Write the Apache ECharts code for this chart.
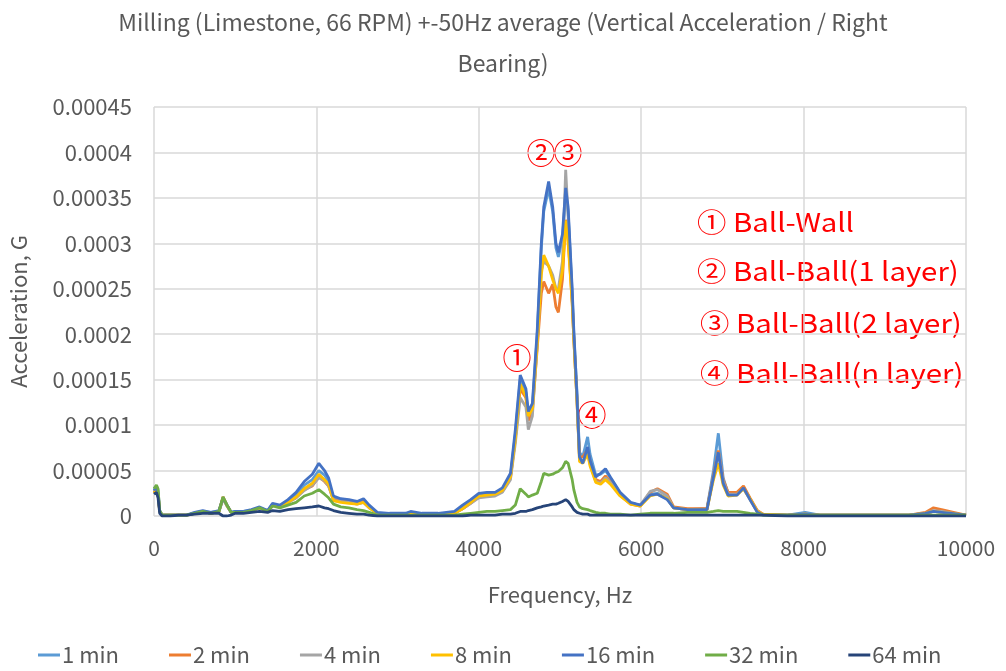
<!DOCTYPE html>
<html>
<head>
<meta charset="utf-8">
<script src="https://cdn.jsdelivr.net/npm/echarts@6/dist/echarts.min.js"></script>
<style>
  html, body { margin: 0; padding: 0; background: #fff; }
  #chart { width: 1006px; height: 671px; }
</style>
</head>
<body>
<div id="chart"></div>
<script>
// frequency points, Hz
var freq = [
  0, 30, 50, 70, 100, 200, 300, 400, 500, 600, 700, 800,
  850, 900, 950, 1000, 1100, 1200, 1300, 1400, 1460, 1550, 1650, 1750,
  1850, 1950, 2030, 2100, 2150, 2210, 2300, 2400, 2500, 2580, 2650, 2750,
  2900, 3100, 3160, 3300, 3500, 3700, 3800, 3900, 4000, 4100, 4200, 4290,
  4390, 4450, 4510, 4580, 4610, 4660, 4720, 4770, 4800, 4860, 4910, 4950,
  4980, 5030, 5070, 5100, 5150, 5170, 5210, 5240, 5280, 5340, 5370, 5440,
  5500, 5560, 5620, 5740, 5870, 5990, 6110, 6200, 6320, 6400, 6570, 6810,
  6890, 6950, 7010, 7070, 7180, 7260, 7340, 7430, 7500, 7800, 8020, 8200,
  8600, 9000, 9300, 9500, 9600, 9700, 9900, 10000
];

// acceleration, in units of 1e-5 G
var min1 = [
  3.0, 3.3, 2.8, 0.6, 0.1, 0.1, 0.1, 0.1, 0.3, 0.5, 0.4, 0.5,
  1.9, 1.1, 0.4, 0.5, 0.5, 0.6, 0.9, 0.6, 1.3, 1.0, 1.6, 2.3,
  3.4, 4.0, 5.0, 4.5, 3.8, 2.0, 1.7, 1.6, 1.4, 1.7, 1.0, 0.3,
  0.2, 0.2, 0.4, 0.2, 0.2, 0.4, 1.0, 1.6, 2.3, 2.4, 2.5, 2.9,
  4.4, 9.0, 15.0, 13.6, 11.0, 12.0, 20.0, 29.5, 33.5, 36.0, 33.5, 29.5,
  28.5, 30.5, 35.5, 33.5, 24.5, 20.0, 13.5, 7.0, 6.5, 8.7, 6.8, 4.5,
  4.6, 5.0, 4.2, 2.5, 1.4, 1.2, 2.4, 2.5, 1.9, 0.9, 0.7, 0.8,
  5.0, 9.1, 4.2, 2.5, 2.4, 3.2, 1.9, 0.5, 0.2, 0.1, 0.4, 0.1,
  0.1, 0.1, 0.1, 0.3, 0.5, 0.4, 0.2, 0.1
];
var min2 = [
  2.6, 3.0, 2.4, 0.5, 0.1, 0.1, 0.1, 0.1, 0.3, 0.5, 0.3, 0.5,
  2.1, 1.2, 0.4, 0.4, 0.4, 0.6, 0.9, 0.5, 1.2, 1.0, 1.5, 2.0,
  2.9, 3.3, 4.3, 3.8, 3.3, 1.8, 1.6, 1.6, 1.4, 1.6, 1.0, 0.3,
  0.2, 0.2, 0.3, 0.2, 0.2, 0.3, 0.8, 1.4, 2.1, 2.2, 2.3, 2.7,
  4.2, 8.5, 14.0, 13.0, 10.5, 11.5, 18.5, 24.5, 25.8, 24.5, 25.5, 23.0,
  22.4, 26.0, 32.6, 30.5, 23.5, 19.5, 12.5, 6.5, 6.5, 7.3, 6.0, 4.0,
  3.8, 4.4, 3.8, 2.3, 1.3, 1.1, 2.6, 3.0, 2.4, 1.0, 0.8, 0.8,
  4.5, 7.2, 4.0, 2.6, 2.6, 3.3, 2.0, 0.6, 0.2, 0.1, 0.2, 0.1,
  0.1, 0.1, 0.1, 0.4, 0.9, 0.7, 0.3, 0.1
];
var min4 = [
  2.7, 3.1, 2.4, 0.5, 0.1, 0.1, 0.1, 0.1, 0.3, 0.5, 0.3, 0.5,
  1.9, 1.1, 0.4, 0.4, 0.4, 0.6, 0.9, 0.5, 1.2, 1.0, 1.5, 2.0,
  2.8, 3.4, 4.2, 3.9, 3.3, 1.7, 1.6, 1.5, 1.3, 1.5, 0.9, 0.3,
  0.2, 0.2, 0.3, 0.2, 0.2, 0.3, 0.8, 1.4, 2.0, 2.1, 2.2, 2.6,
  4.0, 8.0, 13.0, 12.0, 9.5, 11.0, 19.0, 27.0, 28.0, 27.5, 26.5, 25.0,
  25.0, 28.0, 38.1, 33.0, 24.0, 19.5, 12.5, 6.3, 6.0, 7.0, 5.7, 3.8,
  3.6, 4.2, 3.7, 2.4, 1.4, 1.2, 2.7, 2.9, 2.2, 0.9, 0.7, 0.7,
  4.3, 7.0, 3.8, 2.4, 2.4, 3.0, 1.8, 0.5, 0.2, 0.1, 0.2, 0.1,
  0.1, 0.1, 0.1, 0.3, 0.6, 0.5, 0.2, 0.1
];
var min8 = [
  2.5, 2.9, 2.3, 0.5, 0.1, 0.1, 0.1, 0.1, 0.3, 0.5, 0.3, 0.5,
  2.0, 1.1, 0.4, 0.4, 0.4, 0.6, 0.9, 0.5, 1.2, 1.0, 1.5, 2.1,
  3.0, 3.6, 4.6, 4.0, 3.5, 1.7, 1.5, 1.4, 1.3, 1.5, 0.9, 0.3,
  0.2, 0.2, 0.3, 0.2, 0.2, 0.3, 0.8, 1.5, 2.2, 2.3, 2.4, 2.8,
  4.3, 8.5, 14.5, 13.2, 11.0, 11.8, 19.0, 26.5, 28.7, 27.5, 26.0, 25.0,
  24.5, 27.0, 32.5, 30.0, 23.5, 19.5, 12.5, 6.0, 5.8, 6.8, 5.5, 3.7,
  3.5, 4.0, 3.5, 2.2, 1.3, 1.1, 2.2, 2.4, 1.9, 0.9, 0.7, 0.7,
  4.0, 5.8, 3.4, 2.2, 2.3, 3.0, 1.9, 0.5, 0.2, 0.1, 0.2, 0.1,
  0.1, 0.1, 0.1, 0.3, 0.5, 0.4, 0.2, 0.1
];
var min16 = [
  2.8, 3.2, 2.5, 0.6, 0.1, 0.1, 0.1, 0.1, 0.4, 0.6, 0.4, 0.6,
  2.0, 1.2, 0.4, 0.5, 0.5, 0.7, 1.0, 0.6, 1.4, 1.2, 1.8, 2.6,
  3.8, 4.6, 5.8, 5.0, 4.2, 2.2, 1.9, 1.8, 1.6, 1.9, 1.2, 0.4,
  0.3, 0.3, 0.5, 0.3, 0.3, 0.5, 1.2, 1.8, 2.5, 2.6, 2.6, 3.1,
  4.7, 9.5, 15.5, 14.0, 11.5, 12.4, 20.5, 30.0, 34.0, 36.8, 34.0, 30.0,
  29.0, 31.0, 36.1, 34.0, 25.0, 20.5, 13.0, 6.5, 5.8, 7.6, 6.1, 4.3,
  4.7, 5.2, 4.3, 2.6, 1.5, 1.2, 2.3, 2.4, 1.8, 0.9, 0.7, 0.7,
  4.3, 7.0, 3.6, 2.3, 2.3, 3.1, 1.8, 0.4, 0.1, 0.1, 0.2, 0.1,
  0.1, 0.1, 0.1, 0.3, 0.5, 0.4, 0.2, 0.1
];
var min32 = [
  3.0, 3.4, 3.0, 0.6, 0.1, 0.1, 0.1, 0.1, 0.3, 0.5, 0.3, 0.5,
  2.1, 1.2, 0.4, 0.4, 0.4, 0.6, 0.9, 0.5, 1.1, 0.9, 1.2, 1.5,
  2.2, 2.5, 2.9, 2.4, 2.0, 1.3, 1.0, 0.9, 0.7, 0.6, 0.4, 0.1,
  0.1, 0.1, 0.1, 0.1, 0.1, 0.1, 0.2, 0.3, 0.4, 0.5, 0.5, 0.6,
  0.7, 1.2, 3.0, 2.4, 2.1, 2.3, 2.5, 3.8, 4.7, 4.5, 4.6, 4.8,
  4.9, 5.3, 6.0, 5.8, 4.0, 2.9, 1.5, 1.0, 0.8, 0.7, 0.6, 0.4,
  0.3, 0.3, 0.2, 0.2, 0.1, 0.2, 0.3, 0.3, 0.3, 0.3, 0.4, 0.4,
  0.5, 0.6, 0.5, 0.5, 0.5, 0.4, 0.3, 0.2, 0.1, 0.1, 0.1, 0.1,
  0.1, 0.1, 0.1, 0.1, 0.1, 0.1, 0.1, 0.1
];
var min64 = [
  2.4, 2.6, 2.0, 0.3, 0.0, 0.0, 0.1, 0.1, 0.2, 0.3, 0.3, 0.3,
  0.0, 0.0, 0.1, 0.3, 0.3, 0.4, 0.5, 0.4, 0.6, 0.5, 0.7, 0.8,
  0.9, 1.0, 1.1, 0.9, 0.8, 0.6, 0.4, 0.3, 0.2, 0.2, 0.1, 0.0,
  0.0, 0.0, 0.0, 0.0, 0.0, 0.0, 0.0, 0.1, 0.1, 0.1, 0.1, 0.2,
  0.2, 0.3, 0.5, 0.5, 0.6, 0.7, 0.9, 1.0, 1.1, 1.2, 1.3, 1.3,
  1.4, 1.6, 1.8, 1.6, 1.0, 0.7, 0.4, 0.3, 0.2, 0.2, 0.1, 0.1,
  0.1, 0.1, 0.1, 0.1, 0.1, 0.1, 0.1, 0.1, 0.1, 0.1, 0.1, 0.1,
  0.1, 0.1, 0.1, 0.1, 0.1, 0.1, 0.1, 0.1, 0.1, 0.0, 0.0, 0.0,
  0.0, 0.0, 0.0, 0.0, 0.0, 0.0, 0.0, 0.0
];

var seriesNames = ['1 min', '2 min', '4 min', '8 min', '16 min', '32 min', '64 min'];
var seriesData = [min1, min2, min4, min8, min16, min32, min64];
var colors = ['#5B9BD5', '#ED7D31', '#A5A5A5', '#FFC000', '#4472C4', '#70AD47', '#264478'];

var notes = ['① Ball-Wall', '② Ball-Ball(1 layer)', '③ Ball-Ball(2 layer)', '④ Ball-Ball(n layer)'];

var textGray = '#595959';
var font = '"Noto Sans CJK KR", "Noto Sans", sans-serif';
var red = '#FF0000';

var series = seriesNames.map(function (name, i) {
  return {
    name: name,
    type: 'line',
    showSymbol: false,
    symbol: 'none',
    animation: false,
    lineStyle: { width: 2.8, color: colors[i] },
    itemStyle: { color: colors[i] },
    data: freq.map(function (f, j) { return [f, seriesData[i][j] * 1e-5]; })
  };
});

function note(text, x, y) {
  return {
    type: 'text', x: x, y: y, scaleX: 1.13,
    style: { text: text, fill: red, font: '26px ' + font, verticalAlign: 'middle' }
  };
}
function badge(text, x, y) {
  return {
    type: 'text', x: x, y: y,
    style: { text: text, fill: red, font: '29px ' + font, align: 'center', verticalAlign: 'middle' }
  };
}

var chart = echarts.init(document.getElementById('chart'));
var option = {
  backgroundColor: '#fff',
  title: {
    text: 'Milling (Limestone, 66 RPM) +-50Hz average (Vertical Acceleration / Right\nBearing)',
    left: 'center',
    top: -3,
    textStyle: { fontFamily: font, fontSize: 23, fontWeight: 'normal', color: textGray, lineHeight: 41 }
  },
  legend: {
    bottom: 0,
    left: 33,
    icon: 'rect',
    itemWidth: 22,
    itemHeight: 3,
    itemGap: 50,
    textStyle: { fontFamily: font, fontSize: 22, color: textGray, padding: [0, 0, 0, -3] },
    data: seriesNames
  },
  grid: { left: 153, right: 40, top: 107, bottom: 155 },
  xAxis: {
    type: 'value',
    min: 0, max: 10000, interval: 2000,
    name: 'Frequency, Hz',
    nameLocation: 'middle',
    nameGap: 68,
    nameTextStyle: { fontFamily: font, fontSize: 22, color: textGray },
    axisLine: { show: false },
    axisTick: { show: false },
    axisLabel: {
      fontFamily: font, fontSize: 21, color: textGray, margin: 22,
      formatter: function (v) { return String(v); }
    },
    splitLine: { show: true, lineStyle: { color: '#D9D9D9', width: 1.5 } }
  },
  yAxis: {
    type: 'value',
    min: 0, max: 0.00045, interval: 0.00005,
    name: 'Acceleration, G',
    nameLocation: 'middle',
    nameGap: 124,
    nameTextStyle: { fontFamily: font, fontSize: 22, color: textGray },
    axisLine: { show: false },
    axisTick: { show: false },
    axisLabel: {
      fontFamily: font, fontSize: 22, color: textGray, margin: 22,
      formatter: function (v) { return v === 0 ? '0' : String(+v.toFixed(5)); }
    },
    splitLine: { show: true, lineStyle: { color: '#D9D9D9', width: 1.5 } }
  },
  graphic: [
    note(notes[0], 697, 222),
    note(notes[1], 697, 271),
    note(notes[2], 700, 323),
    note(notes[3], 700, 373),
    badge('①', 517, 358),
    badge('②', 541, 153),
    badge('③', 568, 153),
    badge('④', 592, 415)
  ],
  series: series
};
chart.setOption(option);
</script>
</body>
</html>
